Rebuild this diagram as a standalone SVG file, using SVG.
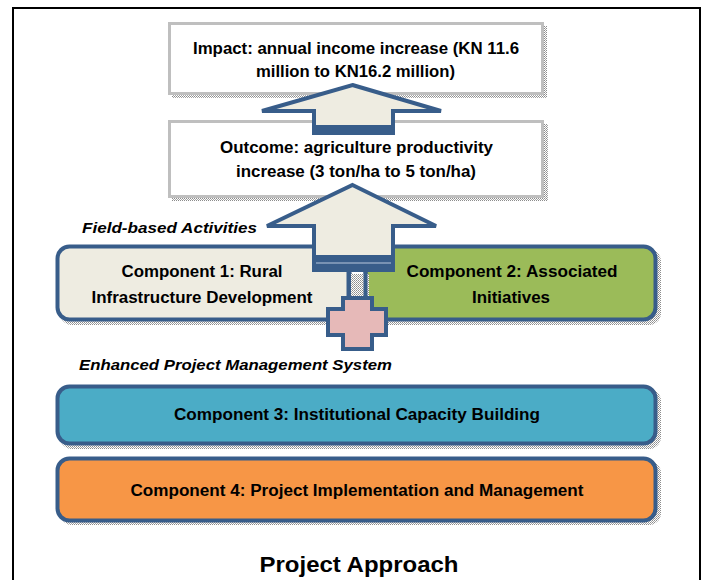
<svg xmlns="http://www.w3.org/2000/svg" width="707" height="580" viewBox="0 0 707 580">
<defs>
<pattern id="dots" width="2" height="2" patternUnits="userSpaceOnUse">
<rect width="2" height="2" fill="#ffffff"/>
<rect width="1" height="1" fill="#8c8c8c"/>
<rect x="1" y="1" width="1" height="1" fill="#a6a6a6"/>
</pattern>
</defs>
<style>
.t{font-family:"Liberation Sans Narrow","Liberation Sans",Arial,sans-serif;font-weight:bold;fill:#000;text-anchor:middle}
.it{font-family:"Liberation Sans Narrow","Liberation Sans",Arial,sans-serif;font-weight:bold;font-style:italic;fill:#000}
.gbox{fill:#ffffff;stroke:#bfbfbf;stroke-width:3}
.shadow{fill:url(#dots)}
.blue{stroke:#385d8a;stroke-width:4;stroke-linejoin:miter}
</style>
<rect x="13" y="8" width="687" height="580" fill="#ffffff" stroke="#000" stroke-width="2"/>

<g id="impact">
<rect class="shadow" x="172" y="26" width="375" height="72"/>
<rect class="gbox" x="169.5" y="23.5" width="373" height="70"/>
<text class="t" font-size="16" x="356" y="54" textLength="326" lengthAdjust="spacingAndGlyphs">Impact: annual income increase (KN 11.6</text>
<text class="t" font-size="16" x="355.5" y="77" textLength="199" lengthAdjust="spacingAndGlyphs">million to KN16.2 million)</text>
</g>

<g id="outcome">
<rect class="shadow" x="172" y="124" width="376" height="77"/>
<rect class="gbox" x="169.5" y="121.5" width="373" height="75"/>
<text class="t" font-size="16" x="356.5" y="153" textLength="273" lengthAdjust="spacingAndGlyphs">Outcome: agriculture productivity</text>
<text class="t" font-size="16" x="356" y="177" textLength="240" lengthAdjust="spacingAndGlyphs">increase (3 ton/ha to 5 ton/ha)</text>
</g>

<g id="labels">
<text class="it" font-size="15" x="82" y="233" textLength="175" lengthAdjust="spacingAndGlyphs">Field-based Activities</text>
<text class="it" font-size="15" x="79" y="370" textLength="313" lengthAdjust="spacingAndGlyphs">Enhanced Project Management System</text>
</g>

<g id="component1">
<rect class="shadow" x="60" y="249" width="292" height="76" rx="12"/>
<rect x="57.5" y="246.5" width="292" height="73" rx="12" fill="#eeece1" class="blue" stroke-width="3"/>
<text class="t" font-size="16" x="202" y="277" textLength="161" lengthAdjust="spacingAndGlyphs">Component 1: Rural</text>
<text class="t" font-size="16" x="202" y="303" textLength="221" lengthAdjust="spacingAndGlyphs">Infrastructure Development</text>
</g>

<g id="component2">
<rect class="shadow" x="369" y="249" width="292" height="76" rx="12"/>
<rect x="365.5" y="246.5" width="290" height="73" rx="12" fill="#9bbb59" class="blue" stroke-width="3"/>
<text class="t" font-size="16" x="512" y="277" textLength="211" lengthAdjust="spacingAndGlyphs">Component 2: Associated</text>
<text class="t" font-size="16" x="511" y="303" textLength="78" lengthAdjust="spacingAndGlyphs">Initiatives</text>
</g>

<g id="component3">
<rect class="shadow" x="60" y="389" width="601" height="60" rx="12"/>
<rect x="57.5" y="386.5" width="598" height="57" rx="12" fill="#4bacc6" class="blue" stroke-width="3"/>
<text class="t" font-size="16" x="357" y="420" textLength="366" lengthAdjust="spacingAndGlyphs">Component 3: Institutional Capacity Building</text>
</g>

<g id="component4">
<rect class="shadow" x="60" y="461" width="601" height="64" rx="12"/>
<rect x="57.5" y="458.5" width="598" height="62" rx="12" fill="#f79646" class="blue" stroke-width="3"/>
<text class="t" font-size="16" x="357" y="496" textLength="453" lengthAdjust="spacingAndGlyphs">Component 4: Project Implementation and Management</text>
</g>

<g id="connectors">
<g id="arrow1">
<polygon points="352.5,85 441,111 393,111 393,133 314,133 314,111 262,111" fill="#eeece1" class="blue"/>
<rect x="314" y="125" width="79" height="10" fill="#385d8a"/>
</g>
<g id="arrow2">
<polygon points="352.5,185 436,226 393,226 393,270 314,270 314,226 267,226" fill="#eeece1" class="blue"/>
<rect x="312" y="255" width="83" height="17" fill="#385d8a"/>
<line x1="316" y1="263" x2="391" y2="263" stroke="#8ea4c0" stroke-width="1.5"/>
</g>
<g id="link">
<rect class="shadow" x="351" y="274" width="18" height="26"/>
<rect x="348.5" y="270" width="17" height="28" fill="#ffffff" fill-opacity="0" class="blue" stroke-width="3"/>
</g>
<g id="cross">
<polygon points="343,298 372,298 372,309 386,309 386,335 372,335 372,349 343,349 343,335 328,335 328,309 343,309" fill="#e6b9b8" class="blue"/>
</g>
</g>

<g id="title">
<text class="t" font-size="22" x="359" y="572" textLength="199" lengthAdjust="spacingAndGlyphs">Project Approach</text>
</g>
</svg>
